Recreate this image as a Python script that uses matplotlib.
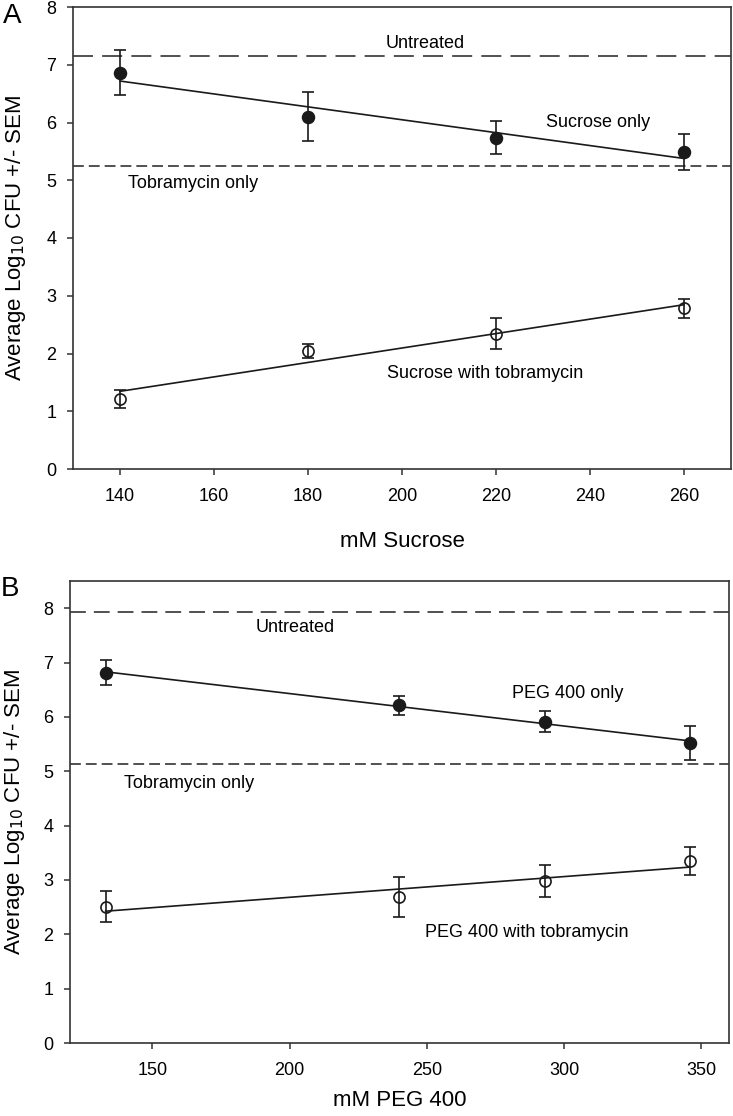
import numpy as np
import matplotlib
matplotlib.use('Agg')
import matplotlib.pyplot as plt

plt.rcParams['font.family'] = ['Liberation Sans', 'DejaVu Sans']

# ---------------- data ----------------
sucrose_mM = [140, 180, 220, 260]
sucrose_only = [6.86, 6.10, 5.74, 5.49]
sucrose_only_sem = [0.39, 0.42, 0.28, 0.31]
sucrose_tobra = [1.21, 2.05, 2.34, 2.78]
sucrose_tobra_sem = [0.16, 0.12, 0.27, 0.16]
sucrose_untreated = 7.15
sucrose_tobra_only = 5.24

peg_mM = [133, 240, 293, 346]
peg_only = [6.81, 6.21, 5.91, 5.52]
peg_only_sem = [0.23, 0.18, 0.19, 0.31]
peg_tobra = [2.51, 2.69, 2.98, 3.35]
peg_tobra_sem = [0.29, 0.37, 0.30, 0.26]
peg_untreated = 7.93
peg_tobra_only = 5.13

sucrose_xticks = [140, 160, 180, 200, 220, 240, 260]
sucrose_yticks = [0, 1, 2, 3, 4, 5, 6, 7, 8]
peg_xticks = [150, 200, 250, 300, 350]
peg_yticks = [0, 1, 2, 3, 4, 5, 6, 7, 8]

W, H = 733, 1116
fig = plt.figure(figsize=(W / 100, H / 100), dpi=100)

axA = fig.add_axes([73 / W, 1 - 469 / H, (731 - 73) / W, (469 - 7) / H])
axB = fig.add_axes([70 / W, 1 - 1043 / H, (728.7 - 70) / W, (1043 - 581) / H])

LC = '#1a1a1a'
SC = '#333333'


def draw_series(ax, x, y, e, filled):
    x = np.asarray(x, float)
    y = np.asarray(y, float)
    k, b = np.polyfit(x, y, 1)
    xs = np.array([x.min(), x.max()])
    ax.plot(xs, k * xs + b, color=LC, lw=1.2, zorder=2)
    ax.errorbar(x, y, yerr=e, fmt='o', color=LC, ecolor=LC, elinewidth=1.2,
                capsize=4.5, capthick=1.2,
                markersize=8.5 if filled else 8,
                markerfacecolor=LC if filled else 'none',
                markeredgecolor=LC, markeredgewidth=1.2, zorder=3)


def style(ax, xlim, ylim, xticks, yticks):
    ax.set_xlim(*xlim)
    ax.set_ylim(*ylim)
    ax.set_xticks(xticks)
    ax.set_yticks(yticks)
    for s in ax.spines.values():
        s.set_color(SC)
        s.set_linewidth(1.2)
    ax.tick_params(axis='both', direction='out', length=4, width=1.1,
                   color=SC, labelsize=13, top=False, right=False)
    ax.tick_params(axis='x', pad=10)
    ax.tick_params(axis='y', pad=8)


# Panel A
axA.axhline(sucrose_untreated, color=SC, lw=1.2, linestyle=(0, (12, 5.5)), zorder=1)
axA.axhline(sucrose_tobra_only, color=SC, lw=1.2, linestyle=(0, (6.5, 3)), zorder=1)
draw_series(axA, sucrose_mM, sucrose_only, sucrose_only_sem, True)
draw_series(axA, sucrose_mM, sucrose_tobra, sucrose_tobra_sem, False)
style(axA, (130, 270), (0, 8), sucrose_xticks, sucrose_yticks)
axA.text(205, 7.37, 'Untreated', fontsize=13, ha='center', va='center')
axA.text(241.7, 6.0, 'Sucrose only', fontsize=13, ha='center', va='center')
axA.text(141.6, 4.95, 'Tobramycin only', fontsize=13, ha='left', va='center')
axA.text(217.6, 1.66, 'Sucrose with tobramycin', fontsize=13, ha='center', va='center')
axA.set_xlabel('mM Sucrose', fontsize=16)
axA.xaxis.set_label_coords(0.5, -0.156)
axA.xaxis.label.set_verticalalignment('center')
axA.set_ylabel('Average Log$_{10}$ CFU +/- SEM', fontsize=16)
axA.yaxis.set_label_coords(-0.088, 0.5)
axA.yaxis.label.set_verticalalignment('center')

# Panel B
axB.axhline(peg_untreated, color=SC, lw=1.2, linestyle=(0, (9.5, 4.8)), zorder=1)
axB.axhline(peg_tobra_only, color=SC, lw=1.2, linestyle=(0, (6.5, 3)), zorder=1)
draw_series(axB, peg_mM, peg_only, peg_only_sem, True)
draw_series(axB, peg_mM, peg_tobra, peg_tobra_sem, False)
style(axB, (120, 360), (0, 8.5), peg_xticks, peg_yticks)
axB.text(202, 7.64, 'Untreated', fontsize=13, ha='center', va='center')
axB.text(301.2, 6.43, 'PEG 400 only', fontsize=13, ha='center', va='center')
axB.text(139.8, 4.77, 'Tobramycin only', fontsize=13, ha='left', va='center')
axB.text(286.5, 2.04, 'PEG 400 with tobramycin', fontsize=13, ha='center', va='center')
axB.set_xlabel('mM PEG 400', fontsize=16)
axB.xaxis.set_label_coords(0.5, -0.124)
axB.xaxis.label.set_verticalalignment('center')
axB.set_ylabel('Average Log$_{10}$ CFU +/- SEM', fontsize=16)
axB.yaxis.set_label_coords(-0.0835, 0.5)
axB.yaxis.label.set_verticalalignment('center')

fig.text(12 / W, 1 - 16 / H, 'A', fontsize=20, ha='center', va='center')
fig.text(10 / W, 1 - 589 / H, 'B', fontsize=20, ha='center', va='center')

fig.savefig('out.png', dpi=100)
